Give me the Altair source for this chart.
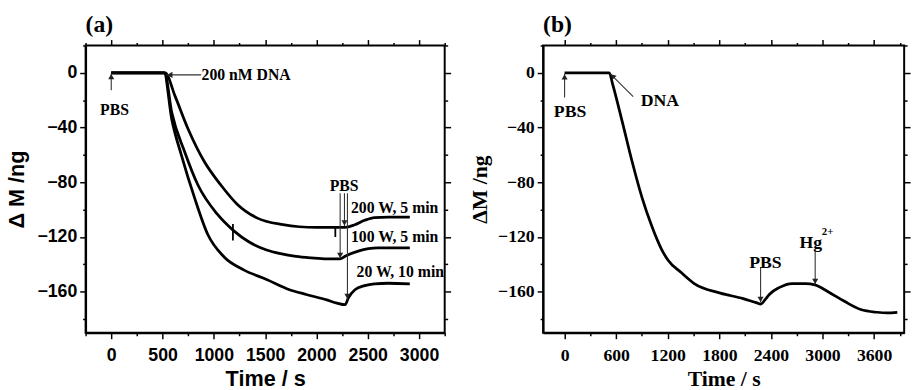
import math
import altair as alt
import pandas as pd

# ---------------- Panel (a) data ----------------
a_t_200 = [0, 300, 525, 622, 749, 908, 1068, 1227, 1419, 1674, 1833, 2000, 2152, 2279, 2375, 2470, 2566, 2700, 2910]
a_v_200 = [0, 0, 0, -17, -41, -65, -82, -96, -106, -111, -112.5, -113, -113, -113, -111, -107.8, -105.8, -105.5, -105.5]

a_t_100 = [0, 300, 520, 590, 717, 845, 1036, 1195, 1340, 1514, 1650, 1800, 1950, 2100, 2231, 2279, 2407, 2598, 2750, 2910]
a_v_100 = [0, 0, 0, -29, -58, -82, -103.5, -115.5, -123.5, -129.5, -132.2, -134.2, -135.3, -136, -136, -134, -130.3, -128, -128, -128]

a_t_20 = [0, 300, 515, 590, 685, 813, 940, 1100, 1291, 1514, 1737, 1900, 2100, 2200, 2280, 2311, 2375, 2470, 2566, 2700, 2910]
a_v_20 = [0, 0, 0, -34, -60.5, -91.6, -118, -134.6, -144, -151, -158.5, -162, -166, -168.3, -169.5, -164.5, -158.5, -155.5, -154.2, -153.8, -154.2]

a_series = ["200 W, 5 min", "100 W, 5 min", "20 W, 10 min"]

# text annotations (a)
a_ctext = ["PBS", "PBS"]
a_ctext_t = [32, 2270]
a_ctext_v = [-27, -83]
a_ltext = ["200 nM DNA", "200 W, 5 min", "100 W, 5 min", "20 W, 10 min"]
a_ltext_t = [880, 2336, 2336, 2391]
a_ltext_v = [-1.5, -98.8, -119.8, -146]

# arrows (a): start -> tip
a_arr_t1 = [0, 877, 2231, 2273, 2302]
a_arr_v1 = [-12.7, -1.5, -88, -88, -88]
a_arr_t2 = [0, 540, 2231, 2273, 2302]
a_arr_v2 = [-0.5, -1.5, -135.8, -112, -165.7]

# small vertical glitch marks on the traces (a)
a_gl_t = [1186, 2184]
a_gl_v1 = [-110.5, -113]
a_gl_v2 = [-122.6, -120]

# ---------------- Panel (b) data ----------------
b_t = [0, 200, 400, 520, 558, 672, 786, 900, 1014, 1128, 1204, 1356, 1508, 1812, 2077, 2230, 2283, 2330, 2381, 2495, 2647, 2800, 2913, 3065, 3255, 3445, 3635, 3750, 3870]
b_v = [0, 0, 0, 0, -8, -36, -65, -91, -112, -129, -137, -146, -154, -161, -165, -168, -169, -166, -162, -157, -154, -154, -155, -160, -167, -173, -175, -175.5, -175]

b_ctext = ["PBS", "DNA", "PBS", "Hg"]
b_ctext_t = [64, 1109, 2337, 2865]
b_ctext_v = [-28.7, -20.4, -139.4, -124.5]
b_sup_text = ["2+"]
b_sup_t = [3060]
b_sup_v = [-116.5]

b_arr_t1 = [0, 798, 2280, 2915]
b_arr_v1 = [-18, -17.3, -142, -130]
b_arr_t2 = [0, 532, 2280, 2915]
b_arr_v2 = [-0.7, -0.7, -167.8, -154.8]

# ---------------- axes / layout settings ----------------
A_XDOM = [-250, 3250]
B_XDOM = [-250, 3950]
YDOM = [-190, 20]
A_XTICKS = list(range(-250, 3251, 250))
B_XTICKS = list(range(0, 3901, 300))
YTICKS = list(range(-180, 21, 20))
W_A, W_B, H = 365, 367, 292

SANS = "Liberation Sans"
SERIF = "Liberation Serif"


def make_axis(values, major, font, title, orient, mirror=False, label_pad=3, title_pad=6):
    common = dict(
        values=values,
        orient=orient,
        tickSize={"condition": {"test": f"datum.value % {major} !== 0", "value": 3}, "value": 6},
        tickColor="black",
        tickWidth=1.5,
        grid=False,
    )
    if mirror:
        return alt.Axis(labels=False, title=None, domain=False, **common)
    return alt.Axis(
        format="d",
        labelExpr=f"datum.value % {major} === 0 && datum.value >= {-10000 if major == 40 else 0} ? datum.label : ''",
        labelFont=font, labelFontSize=18, labelFontWeight="bold", labelColor="black",
        labelPadding=label_pad, labelOverlap=False, labelFlush=False,
        title=title, titleFont=font, titleFontSize=22, titleFontWeight="bold", titleColor="black",
        titlePadding=title_pad,
        domainColor="black", domainWidth=2,
        **common,
    )


def arrows_df(t1, v1, t2, v2, xdom, ydom, w, h):
    kx = w / (xdom[1] - xdom[0])
    ky = h / (ydom[1] - ydom[0])
    rows = []
    for a, b, c, d in zip(t1, v1, t2, v2):
        dx = (c - a) * kx
        dy = -(d - b) * ky
        ln = math.hypot(dx, dy)
        ux, uy = dx / ln, dy / ln
        ang = math.degrees(math.atan2(ux, -uy)) % 360
        hc_t = c - ux * 3.2 / kx
        hc_v = d + uy * 3.2 / ky
        rows.append(dict(t1=a, v1=b, t2=c, v2=d, ht=hc_t, hv=hc_v, ang=ang))
    return pd.DataFrame(rows)


def xe(field, dom, axis=None):
    return alt.X(field, type="quantitative", scale=alt.Scale(domain=dom, nice=False, zero=False), axis=axis)


def ye(field, axis=None):
    return alt.Y(field, type="quantitative", scale=alt.Scale(domain=YDOM, nice=False, zero=False), axis=axis)


def build_panel(line_df, xdom, xticks, xmajor, font, ytitle, w, ctext_df, ltext_df, arr, extra, tsize, title, ytitle_pad):
    base_line = alt.Chart(line_df).mark_line(color="black", strokeWidth=2.8, interpolate="monotone").encode(
        x=xe("t", xdom, make_axis(xticks, xmajor, font, "Time / s", "bottom", label_pad=8, title_pad=5)),
        y=ye("v", make_axis(YTICKS, 40, font, ytitle, "left", title_pad=ytitle_pad)),
        detail="series:N",
        order="t:Q",
    )
    mirror = alt.Chart(line_df).mark_point(opacity=0).encode(
        x=xe("t", xdom, make_axis(xticks, xmajor, font, None, "top", mirror=True)),
        y=ye("v", make_axis(YTICKS, 40, font, None, "right", mirror=True)),
    )
    arr_rule = alt.Chart(arr).mark_rule(color="#333333", strokeWidth=1.1).encode(
        x=xe("t1", xdom), y=ye("v1"), x2="t2", y2="v2"
    )
    arr_head = alt.Chart(arr).mark_point(shape="triangle-up", filled=True, color="#222222", size=38, opacity=1).encode(
        x=xe("ht", xdom), y=ye("hv"), angle=alt.Angle("ang:Q", scale=None)
    )
    ctext = alt.Chart(ctext_df).mark_text(font=SERIF, fontSize=tsize, fontWeight="bold", color="black",
                                          align="center", baseline="middle").encode(
        x=xe("t", xdom), y=ye("v"), text="label:N"
    )
    layers = [base_line, mirror, arr_rule, arr_head, ctext]
    if ltext_df is not None:
        layers.append(alt.Chart(ltext_df).mark_text(font=SERIF, fontSize=tsize, fontWeight="bold", color="black",
                                                    align="left", baseline="middle").encode(
            x=xe("t", xdom), y=ye("v"), text="label:N"))
    layers += extra
    return alt.layer(*layers).resolve_axis(x="independent", y="independent").properties(
        width=w, height=H,
        title=alt.TitleParams(title, anchor="start", frame="group", font=SERIF, fontSize=24, fontWeight="bold",
                              color="black", offset=0, dx=0),
    )


# ---------------- build data frames ----------------
df_a = pd.concat([
    pd.DataFrame({"t": a_t_200, "v": a_v_200, "series": a_series[0]}),
    pd.DataFrame({"t": a_t_100, "v": a_v_100, "series": a_series[1]}),
    pd.DataFrame({"t": a_t_20, "v": a_v_20, "series": a_series[2]}),
])
a_c = pd.DataFrame({"t": a_ctext_t, "v": a_ctext_v, "label": a_ctext})
a_l = pd.DataFrame({"t": a_ltext_t, "v": a_ltext_v, "label": a_ltext})
a_arr = arrows_df(a_arr_t1, a_arr_v1, a_arr_t2, a_arr_v2, A_XDOM, YDOM, W_A, H)
a_gl = pd.DataFrame({"t": a_gl_t, "v1": a_gl_v1, "v2": a_gl_v2})
a_glitch = alt.Chart(a_gl).mark_rule(color="black", strokeWidth=1.8).encode(
    x=xe("t", A_XDOM), y=ye("v1"), y2="v2")

df_b = pd.DataFrame({"t": b_t, "v": b_v, "series": "DNA"})
b_c = pd.DataFrame({"t": b_ctext_t, "v": b_ctext_v, "label": b_ctext})
b_arr = arrows_df(b_arr_t1, b_arr_v1, b_arr_t2, b_arr_v2, B_XDOM, YDOM, W_B, H)
b_sup = alt.Chart(pd.DataFrame({"t": b_sup_t, "v": b_sup_v, "label": b_sup_text})).mark_text(
    font=SERIF, fontSize=11, fontWeight="bold", color="black", align="center", baseline="middle").encode(
    x=xe("t", B_XDOM), y=ye("v"), text="label:N")

panel_a = build_panel(df_a, A_XDOM, A_XTICKS, 500, SANS, "Δ M /ng", W_A, a_c, a_l, a_arr, [a_glitch], 16, "(a)", 9)
panel_b = build_panel(df_b, B_XDOM, B_XTICKS, 600, SERIF, "ΔM /ng", W_B, b_c, None, b_arr, [b_sup], 18, "(b)", 6)

chart = alt.hconcat(panel_a, panel_b, spacing=15).properties(
    padding={"left": 4, "top": 9, "right": 2, "bottom": 0},
    background="white",
).configure_view(stroke="black", strokeWidth=2)

chart.save("out.html", embed_options={"renderer": "svg", "actions": False})
